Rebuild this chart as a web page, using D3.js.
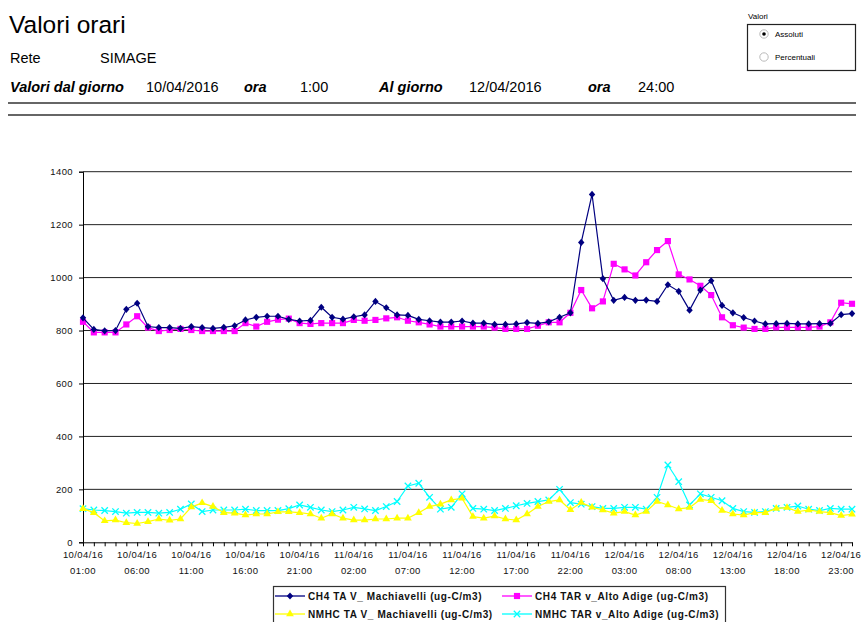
<!DOCTYPE html>
<html>
<head>
<meta charset="utf-8">
<script src="https://cdn.jsdelivr.net/npm/d3@7"></script>
<style>
  body { margin: 0; background: #fff; }
  svg { display: block; font-family: "Liberation Sans", Arial, sans-serif; }
</style>
</head>
<body>
<div id="chart"></div>
<script>
// hourly categories, 10/04/16 01:00 -> 12/04/16 24:00
const days = ['10/04/16', '11/04/16', '12/04/16'];
const hours = d3.range(1, 25).map(h => String(h).padStart(2, '0') + ':00');
const categories = [];
days.forEach(d => hours.forEach(h => categories.push(d + ' ' + h)));

// (ug-C/m3)
const ch4_machiavelli = [
  848, 804, 799, 800, 880, 903, 815, 811, 811, 808, 815, 811, 808, 812, 818, 840, 850, 854, 854, 842, 836, 838, 888, 850,
  843, 852, 859, 910, 886, 859, 857, 842, 837, 832, 832, 836, 828, 828, 823, 823, 825, 830, 827, 833, 850, 867, 1133, 1314,
  996, 914, 925, 914, 915, 910, 973, 948, 877, 953, 988, 895, 867, 849, 836, 825, 826, 827, 825, 825, 826, 827, 860, 864
];
const ch4_altoadige = [
  833, 793, 793, 793, 823, 854, 811, 798, 802, 806, 802, 798, 798, 798, 798, 828, 815, 833, 841, 845, 828, 825, 828, 828,
  828, 840, 837, 840, 846, 850, 837, 831, 823, 815, 815, 815, 815, 815, 811, 806, 806, 806, 818, 831, 831, 867, 953, 884,
  910, 1052, 1031, 1008, 1058, 1104, 1138, 1012, 993, 969, 934, 850, 820, 811, 806, 806, 812, 812, 812, 812, 815, 831, 905, 901
];
const nmhc_machiavelli = [
  127, 112, 81, 84, 74, 71, 78, 88, 83, 88, 133, 149, 135, 112, 110, 103, 107, 107, 115, 115, 112, 107, 91, 107,
  91, 84, 84, 88, 88, 91, 91, 112, 135, 144, 160, 166, 97, 91, 99, 88, 84, 107, 135, 154, 160, 123, 150, 132,
  122, 110, 116, 103, 116, 154, 141, 126, 131, 162, 157, 120, 107, 103, 112, 112, 128, 131, 116, 122, 116, 112, 101, 106
];
const nmhc_altoadige = [
  127, 122, 120, 116, 110, 113, 113, 110, 113, 125, 145, 116, 122, 122, 122, 125, 120, 120, 120, 127, 141, 132, 122, 116,
  122, 132, 126, 120, 135, 154, 213, 223, 170, 125, 132, 183, 128, 125, 120, 128, 138, 147, 154, 160, 200, 150, 144, 135,
  128, 128, 132, 132, 125, 170, 292, 229, 141, 183, 170, 157, 128, 116, 113, 116, 128, 132, 137, 125, 120, 128, 125, 125
];

const seriesNames = [
  'CH4 TA V_ Machiavelli (ug-C/m3)',
  'CH4 TAR v_Alto Adige (ug-C/m3)',
  'NMHC TA V_ Machiavelli (ug-C/m3)',
  'NMHC TAR v_Alto Adige (ug-C/m3)'
];
const yTicks = [0, 200, 400, 600, 800, 1000, 1200, 1400];

const series = [
  {name: seriesNames[0], values: ch4_machiavelli, color: '#000080', marker: 'diamond'},
  {name: seriesNames[1], values: ch4_altoadige, color: '#ff00ff', marker: 'square'},
  {name: seriesNames[2], values: nmhc_machiavelli, color: '#ffff00', marker: 'triangle'},
  {name: seriesNames[3], values: nmhc_altoadige, color: '#00ffff', marker: 'cross'}
];

const width = 863, height = 622;
const plot = {left: 83, right: 852, top: 171.7, bottom: 542.3};

const svg = d3.select('#chart').append('svg')
  .attr('width', width)
  .attr('height', height);

//------------------------------------------------------------
// header
//------------------------------------------------------------
const head = svg.append('g').attr('fill', '#000');

head.append('text').attr('x', 9).attr('y', 33)
  .attr('font-size', 24.5).text('Valori orari');

head.append('text').attr('x', 10).attr('y', 63).attr('font-size', 14.5).text('Rete');
head.append('text').attr('x', 100).attr('y', 63).attr('font-size', 14.5).text('SIMAGE');

const line3 = [
  {x: 10, t: 'Valori dal giorno', b: true},
  {x: 146, t: '10/04/2016'},
  {x: 244, t: 'ora', b: true},
  {x: 300, t: '1:00'},
  {x: 379, t: 'Al giorno', b: true},
  {x: 469, t: '12/04/2016'},
  {x: 588, t: 'ora', b: true},
  {x: 638, t: '24:00'}
];
head.selectAll('.l3').data(line3).join('text')
  .attr('x', d => d.x).attr('y', 92)
  .attr('font-size', 14.5)
  .attr('font-weight', d => d.b ? 'bold' : null)
  .attr('font-style', d => d.b ? 'italic' : null)
  .text(d => d.t);

[103, 115].forEach(y => {
  svg.append('line').attr('x1', 8).attr('x2', 856).attr('y1', y).attr('y2', y)
    .attr('stroke', '#333').attr('stroke-width', 1.3);
});

// radio box
const radio = svg.append('g').attr('font-size', 8);
radio.append('text').attr('x', 748).attr('y', 19).text('Valori');
radio.append('rect').attr('x', 747.5).attr('y', 24.5).attr('width', 108).attr('height', 46)
  .attr('fill', 'none').attr('stroke', '#222').attr('stroke-width', 1.2);
[{y: 34, t: 'Assoluti', on: true}, {y: 57, t: 'Percentuali'}].forEach(o => {
  radio.append('circle').attr('cx', 764).attr('cy', o.y).attr('r', 4.2)
    .attr('fill', '#fff').attr('stroke', '#bbb');
  if (o.on) radio.append('circle').attr('cx', 764).attr('cy', o.y).attr('r', 1.8).attr('fill', '#000');
  radio.append('text').attr('x', 775).attr('y', o.y + 3).text(o.t);
});

//------------------------------------------------------------
// chart
//------------------------------------------------------------
const x = d3.scalePoint().domain(categories).range([plot.left, plot.right]);
const y = d3.scaleLinear().domain([0, 1400]).range([plot.bottom, plot.top]);

const chart = svg.append('g');

// gridlines
chart.append('g').selectAll('line').data(yTicks.filter(v => v > 0)).join('line')
  .attr('x1', plot.left).attr('x2', plot.right)
  .attr('y1', d => y(d)).attr('y2', d => y(d))
  .attr('stroke', '#222').attr('stroke-width', 1);

// y axis
const yAxis = chart.append('g')
  .attr('transform', `translate(${plot.left},0)`)
  .call(d3.axisLeft(y).tickValues(yTicks).tickFormat(d3.format('d')).tickSize(4).tickPadding(6));
yAxis.select('.domain').attr('stroke', '#000');
yAxis.selectAll('.tick line').attr('stroke', '#000');
yAxis.selectAll('text').attr('font-size', 9.5).attr('fill', '#111')
  .attr('font-family', '"Liberation Sans", Arial, sans-serif').attr('letter-spacing', 0.4);

// x axis
const xAxis = chart.append('g')
  .attr('transform', `translate(0,${plot.bottom})`)
  .call(d3.axisBottom(x).tickValues(categories).tickSize(4).tickSizeOuter(0).tickFormat(''));
xAxis.select('.domain').attr('stroke', '#000');
xAxis.selectAll('.tick line').attr('stroke', '#000');

const labelled = categories.filter((c, i) => i % 5 === 0);
const xl = chart.append('g').selectAll('text').data(labelled).join('text')
  .attr('text-anchor', 'middle')
  .attr('font-size', 9.5)
  .attr('letter-spacing', 0.4)
  .attr('fill', '#111');
xl.append('tspan').attr('x', d => x(d)).attr('y', plot.bottom + 16).text(d => d.split(' ')[0]);
xl.append('tspan').attr('x', d => x(d)).attr('y', plot.bottom + 32).text(d => d.split(' ')[1]);

// markers
const markerPath = {
  diamond: 'M0,-3.6L3.2,0L0,3.6L-3.2,0Z',
  square: d3.symbol(d3.symbolSquare, 38)(),
  triangle: d3.symbol(d3.symbolTriangle, 26)(),
  cross: 'M-3.2,-3.2L3.2,3.2M-3.2,3.2L3.2,-3.2'
};

const line = d3.line().x((d, i) => x(categories[i])).y(d => y(d));

// draw in reverse so the CH4 series sit on top like the original
series.slice().reverse().forEach(s => {
  const g = chart.append('g');
  g.append('path').datum(s.values)
    .attr('d', line)
    .attr('fill', 'none')
    .attr('stroke', s.color)
    .attr('stroke-width', 1.2);
  g.selectAll('path.m').data(s.values).join('path')
    .attr('class', 'm')
    .attr('transform', (d, i) => `translate(${x(categories[i])},${y(d)})`)
    .attr('d', markerPath[s.marker])
    .attr('fill', s.marker === 'cross' ? 'none' : s.color)
    .attr('stroke', s.marker === 'cross' ? s.color : 'none')
    .attr('stroke-width', 1.3);
});

//------------------------------------------------------------
// legend
//------------------------------------------------------------
const legend = svg.append('g');
legend.append('rect')
  .attr('x', 273.5).attr('y', 586.5).attr('width', 452).attr('height', 42)
  .attr('fill', '#fff').attr('stroke', '#333').attr('stroke-width', 1.2);

const legendPos = [
  {s: series[0], x: 275, y: 596},
  {s: series[1], x: 502, y: 596},
  {s: series[2], x: 275, y: 614},
  {s: series[3], x: 502, y: 614}
];
legendPos.forEach(p => {
  const g = legend.append('g').attr('transform', `translate(${p.x},${p.y})`);
  g.append('line').attr('x1', 0).attr('x2', 30).attr('y1', 0).attr('y2', 0)
    .attr('stroke', p.s.color).attr('stroke-width', 1.3);
  g.append('path').attr('transform', 'translate(15,0)')
    .attr('d', markerPath[p.s.marker])
    .attr('fill', p.s.marker === 'cross' ? 'none' : p.s.color)
    .attr('stroke', p.s.marker === 'cross' ? p.s.color : 'none')
    .attr('stroke-width', 1.3);
  g.append('text').attr('x', 33).attr('y', 3.5)
    .attr('font-size', 10).attr('font-weight', 'bold')
    .attr('letter-spacing', 0.6)
    .attr('fill', '#111')
    .text(p.s.name);
});
</script>
</body>
</html>
